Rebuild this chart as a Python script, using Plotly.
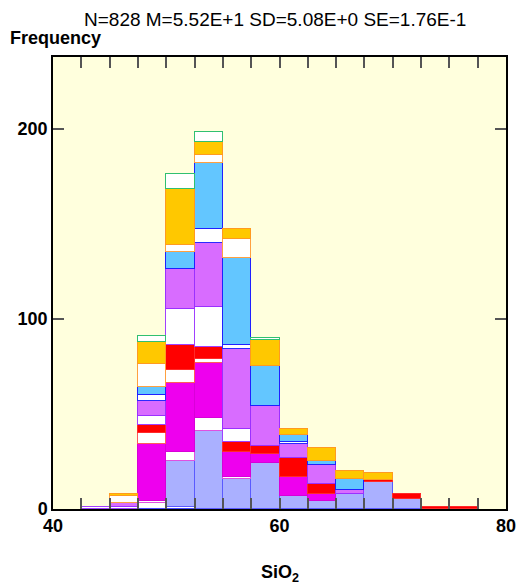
import plotly.graph_objects as go

# Histogram bins (width 2.5) for SiO2, 40..80
bin_centers = [41.25, 43.75, 46.25, 48.75, 51.25, 53.75, 56.25, 58.75,
               61.25, 63.75, 66.25, 68.75, 71.25, 73.75, 76.25, 78.75]

# Counts per group, stacked bottom -> top
open_lavender = [0, 0, 0, 3, 1, 0, 0, 0, 0, 0, 0, 0, 0, 0, 0, 0]
lavender      = [0, 0, 0, 0, 24, 41, 16, 24, 7, 4, 8, 14, 5, 0, 0, 0]
open_magenta  = [0, 0, 0, 1, 5, 7, 1, 0, 0, 0, 0, 0, 0, 0, 0, 0]
magenta       = [0, 0, 0, 30, 36, 29, 13, 5, 10, 4, 0, 0, 0, 0, 0, 0]
open_red      = [0, 0, 0, 6, 7, 2, 0, 0, 0, 0, 0, 0, 0, 0, 0, 0]
red           = [0, 0, 0, 4, 13, 6, 5, 4, 10, 5, 0, 1, 3, 1, 1, 0]
open_purple   = [0, 1, 1, 5, 19, 21, 7, 0, 0, 0, 0, 0, 0, 0, 0, 0]
orchid        = [0, 0, 2, 8, 21, 34, 42, 21, 7, 10, 2, 0, 0, 0, 0, 0]
open_blue     = [0, 0, 0, 3, 0, 7, 2, 0, 1, 0, 0, 0, 0, 0, 0, 0]
light_blue    = [0, 0, 0, 4, 9, 35, 46, 21, 4, 2, 6, 0, 0, 0, 0, 0]
open_orange   = [0, 0, 4, 12, 4, 4, 10, 0, 0, 0, 0, 0, 0, 0, 0, 0]
gold          = [0, 0, 1, 12, 29, 7, 5, 14, 3, 7, 4, 4, 0, 0, 0, 0]
open_green    = [0, 0, 0, 3, 8, 5, 0, 1, 0, 0, 0, 0, 0, 0, 0, 0]

x_ticks = [40, 60, 80]
y_ticks = [0, 100, 200]
title_text = "N=828 M=5.52E+1 SD=5.08E+0 SE=1.76E-1"

groups = [
    (open_lavender, "#ffffff", "#4a4aff"),
    (lavender,      "#aab0ff", "#5a5aff"),
    (open_magenta,  "#ffffff", "#e050e0"),
    (magenta,       "#ee00ee", "#d800d8"),
    (open_red,      "#ffffff", "#ff5a5a"),
    (red,           "#ff0000", "#ff2a2a"),
    (open_purple,   "#ffffff", "#a040ff"),
    (orchid,        "#d86cff", "#9b30ff"),
    (open_blue,     "#ffffff", "#2a2aff"),
    (light_blue,    "#63c6ff", "#2020ff"),
    (open_orange,   "#ffffff", "#ffa040"),
    (gold,          "#ffc800", "#ff9a20"),
    (open_green,    "#ffffff", "#30c070"),
]

fig = go.Figure()
for counts, fill, edge in groups:
    # empty bins are left out so no outline is drawn for them
    xs = [c for c, n in zip(bin_centers, counts) if n > 0]
    ys = [n for n in counts if n > 0]
    fig.add_trace(go.Bar(
        x=xs, y=ys, width=2.5,
        marker=dict(color=fill, line=dict(color=edge, width=1.2)),
        showlegend=False,
    ))

font_family = "Liberation Sans, Arial, sans-serif"
fig.update_layout(
    width=516, height=588,
    margin=dict(l=53, r=10, t=57, b=79, autoexpand=False),
    paper_bgcolor="white",
    plot_bgcolor="#ffffdd",
    barmode="stack",
    bargap=0,
    font=dict(family=font_family, color="black"),
    xaxis=dict(
        range=[40, 80], tickvals=x_ticks, ticks="inside", ticklen=11,
        tickwidth=1.5, tickcolor="#555555", automargin=False,
        ticklabeloverflow="allow",
        minor=dict(dtick=2.5, tick0=40, ticks="inside", ticklen=11,
                   tickwidth=1.5, tickcolor="#555555"),
        showline=True, linecolor="black", linewidth=1.5, mirror="ticks",
        showgrid=False, zeroline=False,
        tickfont=dict(size=18, weight="bold"),
    ),
    yaxis=dict(
        range=[0, 237.6], tickvals=y_ticks, ticks="inside", ticklen=11,
        tickwidth=1.5, tickcolor="#555555", automargin=False,
        ticklabeloverflow="allow",
        showline=True, linecolor="black", linewidth=1.5, mirror="ticks",
        showgrid=False, zeroline=False,
        tickfont=dict(size=18, weight="bold"),
    ),
    annotations=[
        dict(text=title_text, xref="paper", yref="paper", x=0.49, y=1.0,
             yshift=38, xanchor="center", yanchor="middle", showarrow=False,
             font=dict(size=19)),
        dict(text="<b>Frequency</b>", xref="paper", yref="paper", x=0, y=1.0,
             xshift=-45, yshift=19, xanchor="left", yanchor="middle",
             showarrow=False, font=dict(size=18)),
        dict(text="<b>SiO<sub>2</sub></b>", xref="paper", yref="paper",
             x=0.5, y=0, yshift=-64, xanchor="center", yanchor="middle",
             showarrow=False, font=dict(size=18)),
    ],
)

fig.write_html("out.html")
